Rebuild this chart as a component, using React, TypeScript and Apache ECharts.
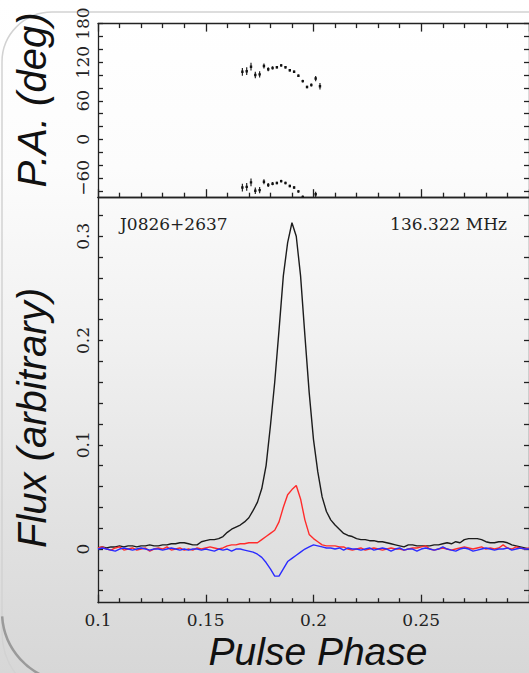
import React, { useEffect, useRef } from "react";
import * as echarts from "echarts";

// Profile sampled on a regular pulse-phase grid
const PHASE_START = 0.1;
const PHASE_STEP = 0.002;

// Total intensity (black)
const totalIntensity = [
  0.001, 0.002, 0.001, 0.002, 0.002, 0.003, 0.002, 0.003, 0.003, 0.002,
  0.003, 0.003, 0.004, 0.003, 0.003, 0.004, 0.004, 0.005, 0.005, 0.006,
  0.006, 0.005, 0.004, 0.004, 0.007, 0.008, 0.009, 0.009, 0.010, 0.012,
  0.016, 0.019, 0.021, 0.023, 0.026, 0.030, 0.037, 0.045, 0.058, 0.080,
  0.118, 0.160, 0.210, 0.262, 0.294, 0.313, 0.300, 0.262, 0.205, 0.150,
  0.105, 0.074, 0.050, 0.036, 0.028, 0.023, 0.019, 0.015, 0.013, 0.012,
  0.010, 0.009, 0.009, 0.008, 0.008, 0.007, 0.007, 0.006, 0.005, 0.004,
  0.003, 0.002, 0.004, 0.004, 0.003, 0.003, 0.003, 0.003, 0.004, 0.004,
  0.005, 0.006, 0.005, 0.007, 0.006, 0.009, 0.010, 0.010, 0.010, 0.009,
  0.007, 0.006, 0.006, 0.007, 0.007, 0.006, 0.004, 0.003, 0.002, 0.001,
  0.000,
];

// Linear polarization (red)
const linearPol = [
  0.001, 0.002, 0.000, -0.001, 0.001, 0.002, -0.001, 0.000, 0.001, -0.001,
  0.000, 0.001, -0.002, 0.000, 0.001, 0.000, 0.002, -0.001, 0.000, 0.001,
  -0.001, 0.000, -0.001, 0.001, 0.000, 0.001, 0.002, 0.001, 0.000, 0.001,
  0.003, 0.004, 0.004, 0.005, 0.005, 0.006, 0.006, 0.006, 0.009, 0.012,
  0.015, 0.018, 0.026, 0.040, 0.052, 0.057, 0.061, 0.048, 0.028, 0.014,
  0.010, 0.007, 0.004, 0.003, 0.003, 0.003, 0.002, 0.002, 0.000, -0.001,
  0.000, 0.001, -0.001, 0.000, 0.001, 0.000, -0.001, 0.000, 0.001, 0.000,
  0.000, -0.001, 0.000, 0.001, 0.001, 0.002, 0.003, 0.000, -0.001, 0.000,
  0.001, 0.000, -0.001, 0.000, 0.001, 0.002, 0.001, 0.000, 0.001, 0.002,
  0.000, 0.001, 0.000, 0.001, 0.004, 0.001, 0.000, 0.002, 0.001, 0.000,
  0.001,
];

// Circular polarization (blue)
const circularPol = [
  0.000, 0.001, 0.000, -0.001, -0.002, 0.000, 0.001, 0.000, -0.001, 0.000,
  0.001, 0.000, -0.001, 0.000, 0.000, -0.001, 0.000, 0.001, 0.000, -0.001,
  0.000, -0.001, 0.000, 0.000, -0.001, 0.000, -0.001, -0.002, 0.000, -0.001,
  0.000, -0.002, 0.000, 0.000, -0.001, -0.002, -0.003, -0.005, -0.008, -0.013,
  -0.019, -0.026, -0.026, -0.019, -0.012, -0.009, -0.006, -0.003, 0.000, 0.002,
  0.004, 0.003, 0.002, 0.001, 0.001, 0.000, 0.001, -0.001, 0.001, 0.000,
  0.000, -0.001, 0.000, 0.001, -0.001, 0.000, 0.001, 0.000, -0.002, 0.000,
  0.001, -0.001, 0.000, 0.000, -0.002, 0.000, 0.001, 0.000, -0.001, 0.000,
  0.002, 0.000, -0.001, -0.002, 0.000, 0.001, 0.000, -0.002, -0.001, 0.000,
  0.001, 0.000, -0.001, 0.000, 0.000, 0.001, -0.001, 0.000, 0.001, 0.000,
  0.000,
];

// Position angle points
const paPhase = [
  0.167, 0.169, 0.171, 0.173, 0.175, 0.177, 0.179, 0.181, 0.183, 0.185,
  0.187, 0.189, 0.191, 0.193, 0.195, 0.197, 0.199, 0.201, 0.203,
];
const paDeg = [
  105, 106, 113, 100, 101, 114, 109, 111, 112, 115,
  112, 107.5, 105, 99, 90.5, 81.5, 84.5, 94.5, 82.5,
];
const paErr = [
  6, 6, 6, 5, 5, 4, 3, 2.5, 2, 2,
  2, 2, 2, 2, 2, 2, 2.5, 4, 5,
];

// Tick values
const paTicks = [-80, -60, -40, -20, 0, 20, 40, 60, 80, 100, 120, 140, 160, 180];
const paLabels = [-60, 0, 60, 120, 180];
const fluxTicks = [
  -0.04, -0.02, 0, 0.02, 0.04, 0.06, 0.08, 0.1, 0.12, 0.14, 0.16, 0.18, 0.2,
  0.22, 0.24, 0.26, 0.28, 0.3, 0.32,
];
const fluxLabels = [0, 0.1, 0.2, 0.3];

const INK = "#222";
const SERIF = "DejaVu Serif";
const SANS = "Liberation Sans";

export default function App() {
  const ref = useRef<HTMLDivElement>(null);

  useEffect(() => {
    const chart = echarts.init(ref.current!, null, { renderer: "svg" });
    const phases = totalIntensity.map((_, i) => +(PHASE_START + i * PHASE_STEP).toFixed(4));
    const mk = (arr: number[]) => arr.map((v, i) => [phases[i], v]);

    const lineStyle = { color: INK, width: 1.3 };
    const xBase = (gridIndex: number, position: string, labels: boolean, ticks: boolean) => ({
      type: "value",
      gridIndex,
      position,
      min: 0.1,
      max: 0.3,
      interval: 0.05,
      splitLine: { show: false },
      axisLine: { show: true, onZero: false, lineStyle },
      axisTick: { show: ticks, inside: true, length: 8, lineStyle },
      minorTick: { show: ticks, splitNumber: 5, length: 4.5, lineStyle },
      axisLabel: {
        show: labels,
        showMaxLabel: false,
        margin: 9,
        color: INK,
        fontFamily: SERIF,
        fontSize: 17,
        formatter: (v: number) => String(+v.toFixed(3)),
      },
    });

    const fmt = (v: number) => (v < 0 ? "\u2212" + Math.abs(v) : String(+Number(v).toFixed(3)));
    const yBase = (
      gridIndex: number,
      position: string,
      min: number,
      max: number,
      ticks: number[],
      labels: number[] | null
    ) => ({
      type: "value",
      gridIndex,
      position,
      min,
      max,
      splitLine: { show: false },
      axisLine: { show: true, onZero: false, lineStyle },
      axisTick: { show: true, inside: true, length: 5, lineStyle, customValues: ticks },
      minorTick: { show: false },
      axisLabel: labels
        ? {
            show: true,
            customValues: labels,
            rotate: 90,
            margin: 7,
            color: INK,
            fontFamily: SERIF,
            fontSize: 17,
            formatter: fmt,
          }
        : { show: false },
    });

    const renderErr = (params: any, api: any) => {
      const x = api.value(0);
      const y = api.value(1);
      const e = api.value(2);
      const top = api.coord([x, y + e]);
      const bot = api.coord([x, y - e]);
      const c = api.coord([x, y]);
      return {
        type: "group",
        children: [
          {
            type: "line",
            shape: { x1: top[0], y1: top[1], x2: bot[0], y2: bot[1] },
            style: { stroke: "#222", lineWidth: 1.2 },
          },
          {
            type: "rect",
            shape: { x: c[0] - 1.2, y: c[1] - 1.2, width: 2.4, height: 2.4 },
            style: { fill: "#111" },
          },
        ],
      };
    };

    const paMain = paPhase.map((p, i) => [p, paDeg[i], paErr[i]]);
    const paWrap = paPhase.map((p, i) => [p, paDeg[i] - 180, paErr[i]]);

    const option: any = {
      animation: false,
      backgroundColor: "transparent",
      grid: [
        { left: 98, top: 23.6, width: 432, height: 173.6, containLabel: false },
        { left: 98, top: 197.2, width: 432, height: 405.5, containLabel: false },
      ],
      xAxis: [
        xBase(0, "bottom", false, true),
        xBase(0, "top", false, true),
        xBase(1, "bottom", true, true),
        xBase(1, "top", false, false),
      ],
      yAxis: [
        yBase(0, "left", -90, 180, paTicks, paLabels),
        yBase(0, "right", -90, 180, paTicks, null),
        yBase(1, "left", -0.0515, 0.3375, fluxTicks, fluxLabels),
        yBase(1, "right", -0.0515, 0.3375, fluxTicks, null),
      ],
      series: [
        {
          type: "custom",
          xAxisIndex: 0,
          yAxisIndex: 0,
          clip: true,
          renderItem: renderErr,
          data: paMain,
        },
        {
          type: "custom",
          xAxisIndex: 0,
          yAxisIndex: 0,
          clip: true,
          renderItem: renderErr,
          data: paWrap,
        },
        {
          type: "line",
          xAxisIndex: 2,
          yAxisIndex: 2,
          data: mk(totalIntensity),
          showSymbol: false,
          symbol: "none",
          lineStyle: { color: "#1c1c1c", width: 1.4 },
        },
        {
          type: "line",
          xAxisIndex: 2,
          yAxisIndex: 2,
          data: mk(linearPol),
          showSymbol: false,
          symbol: "none",
          lineStyle: { color: "#ff2b2b", width: 1.4 },
        },
        {
          type: "line",
          xAxisIndex: 2,
          yAxisIndex: 2,
          data: mk(circularPol),
          showSymbol: false,
          symbol: "none",
          lineStyle: { color: "#2b2bff", width: 1.4 },
        },
      ],
      graphic: [
        {
          type: "rect",
          z: -10,
          shape: { x: 2, y: 12, width: 640, height: 690, r: [50, 50, 50, 70] },
          style: { fill: "none", stroke: "#d2d2d2", lineWidth: 1.5 },
          silent: true,
        },
        {
          type: "arc",
          z: -9,
          shape: { cx: 72, cy: 612, r: 70, startAngle: Math.PI * 0.55, endAngle: Math.PI * 0.98 },
          style: { fill: "none", stroke: "#9a9a9a", lineWidth: 2.5 },
          silent: true,
        },
        {
          type: "text",
          x: 32,
          y: 100,
          rotation: Math.PI / 2,
          style: {
            text: "P.A. (deg)",
            font: `italic 40px "${SANS}"`,
            fill: "#111",
            align: "center",
            verticalAlign: "middle",
          },
        },
        {
          type: "text",
          x: 32,
          y: 418,
          rotation: Math.PI / 2,
          style: {
            text: "Flux (arbitrary)",
            font: `italic 40px "${SANS}"`,
            fill: "#111",
            align: "center",
            verticalAlign: "middle",
          },
        },
        {
          type: "text",
          x: 318,
          y: 651,
          style: {
            text: "Pulse Phase",
            font: `italic 39px "${SANS}"`,
            fill: "#111",
            align: "center",
            verticalAlign: "middle",
          },
        },
        {
          type: "text",
          x: 120,
          y: 223.5,
          style: {
            text: "J0826+2637",
            font: `17px "${SERIF}"`,
            fill: INK,
            align: "left",
            verticalAlign: "middle",
          },
        },
        {
          type: "text",
          x: 507,
          y: 223.5,
          style: {
            text: "136.322 MHz",
            font: `17px "${SERIF}"`,
            fill: INK,
            align: "right",
            verticalAlign: "middle",
          },
        },
      ],
    };

    chart.setOption(option);
    return () => chart.dispose();
  }, []);

  return (
    <div
      ref={ref}
      style={{
        position: "fixed",
        left: 0,
        top: 0,
        width: 529,
        height: 673,
        background:
          "linear-gradient(to bottom, #ffffff 0%, #fcfcfc 25%, #f1f1f1 50%, #e3e3e3 75%, #d7d7d7 100%)",
      }}
    />
  );
}
